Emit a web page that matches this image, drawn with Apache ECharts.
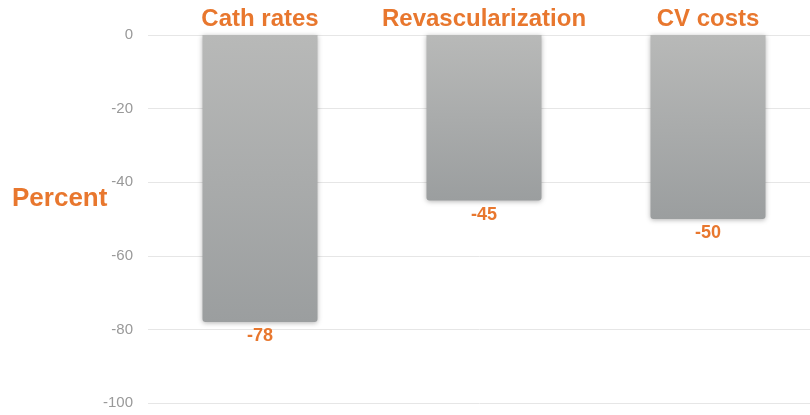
<!DOCTYPE html>
<html>
<head>
<meta charset="utf-8">
<script src="https://cdn.jsdelivr.net/npm/echarts@6/dist/echarts.min.js"></script>
<style>
  html, body { margin: 0; padding: 0; background: #fff; }
  #chart { width: 810px; height: 415px; }
</style>
</head>
<body>
<div id="chart"></div>
<script>
var categories = ['Cath rates', 'Revascularization', 'CV costs'];
var values = [-78, -45, -50];
var yTicks = { min: -100, max: 0, step: 20 };

var orange = '#E8772E';
var chart = echarts.init(document.getElementById('chart'));

var option = {
    animation: false,
    grid: { left: 148, width: 672, top: 35, bottom: 12, outerBoundsMode: 'none', containLabel: false },
    graphic: [{
        type: 'text',
        left: 12,
        top: 186,
        style: {
            text: 'Percent',
            fill: orange,
            font: 'bold 26px "Liberation Sans", Arial, sans-serif'
        }
    }],
    xAxis: {
        type: 'category',
        position: 'top',
        data: categories,
        axisLine: { show: false },
        axisTick: { show: false },
        axisLabel: {
            interval: 0,
            color: orange,
            fontFamily: '"Liberation Sans", Arial, sans-serif',
            fontWeight: 'bold',
            fontSize: 24,
            margin: 4
        }
    },
    yAxis: {
        type: 'value',
        min: yTicks.min,
        max: yTicks.max,
        interval: yTicks.step,
        axisLine: { show: false },
        axisTick: { show: false },
        axisLabel: {
            color: '#999',
            fontFamily: '"Liberation Sans", Arial, sans-serif',
            fontSize: 15,
            margin: 15
        },
        splitLine: { lineStyle: { color: '#e6e6e6', width: 1 } }
    },
    series: [{
        type: 'bar',
        data: values,
        barWidth: 115,
        itemStyle: {
            color: new echarts.graphic.LinearGradient(0, 0, 0, 1, [
                { offset: 0, color: '#b8b9b8' },
                { offset: 1, color: '#9b9e9f' }
            ]),
            borderRadius: [0, 0, 3, 3],
            shadowBlur: 5,
            shadowColor: 'rgba(0,0,0,0.3)',
            shadowOffsetY: 1
        },
        label: {
            show: true,
            position: 'bottom',
            distance: 5,
            color: orange,
            fontFamily: '"Liberation Sans", Arial, sans-serif',
            fontWeight: 'bold',
            fontSize: 18
        }
    }]
};

chart.setOption(option);
</script>
</body>
</html>
